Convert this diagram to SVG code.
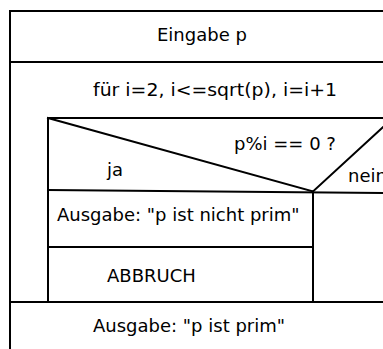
<svg xmlns="http://www.w3.org/2000/svg" width="383" height="349" viewBox="0 0 383 349">
<style>
.ln{stroke:#000;stroke-width:2;fill:none;stroke-linecap:square}
.t{font-family:"DejaVu Sans",sans-serif;font-size:18px;fill:#000}
</style>
<rect width="383" height="349" fill="#fff"/>
<g id="connectors">
<path class="ln" d="M10,349 V11 H390"/>
<path class="ln" d="M10,62 H390"/>
<path class="ln" d="M48,302 V118 H390"/>
<path class="ln" d="M48,118 L313,191.5 L393,118"/>
<path class="ln" d="M48,190 L390,193"/>
<path class="ln" d="M313,191.5 V302"/>
<path class="ln" d="M48,247 H313"/>
<path class="ln" d="M10,302 H390"/>
</g>
<g id="eingabe"><text class="t" x="157" y="41">Eingabe p</text></g>
<g id="schleife"><text class="t" x="93" y="96" textLength="244" lengthAdjust="spacingAndGlyphs">für i=2, i&lt;=sqrt(p), i=i+1</text></g>
<g id="bedingung">
<text class="t" x="234" y="150">p%i == 0 ?</text>
<text class="t" x="107" y="176">ja</text>
<text class="t" x="348" y="182">nein</text>
</g>
<g id="ausgabe1"><text class="t" x="57" y="221">Ausgabe: "p ist nicht prim"</text></g>
<g id="abbruch"><text class="t" x="107" y="282">ABBRUCH</text></g>
<g id="ausgabe2"><text class="t" x="93" y="332">Ausgabe: "p ist prim"</text></g>
</svg>
